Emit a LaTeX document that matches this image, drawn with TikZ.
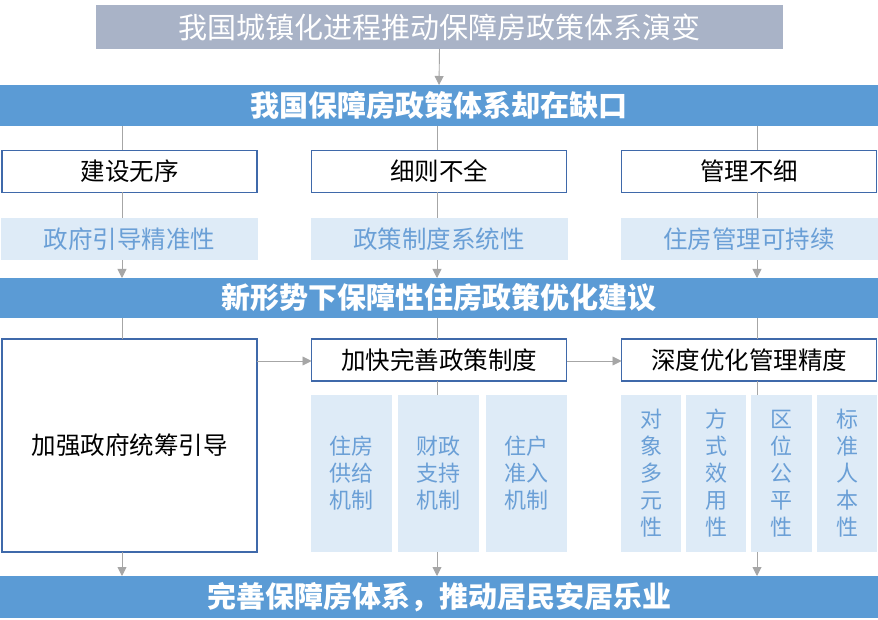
\documentclass[tikz,border=0pt]{standalone}
\usepackage{fontspec}
\setmainfont{Noto Sans CJK SC}
\usetikzlibrary{arrows.meta}
\definecolor{graybox}{HTML}{A9B3C7}
\definecolor{band}{HTML}{5B9BD5}
\definecolor{lightfill}{HTML}{DEEBF7}
\definecolor{lighttext}{HTML}{6A9FD6}
\definecolor{border}{HTML}{3F69AA}
\definecolor{conn}{HTML}{A6A6A6}
\tikzset{
  base/.style={inner sep=0pt,outer sep=0pt,align=center},
  topbox/.style={base,fill=graybox,text=white,font=\fontsize{29}{32}\selectfont,minimum width=687pt,minimum height=44pt},
  bandbox/.style={base,fill=band,text=white,font=\fontsize{29}{32}\selectfont\bfseries,minimum width=878pt},
  wbox/.style={base,draw=border,line width=1.6pt,fill=white,font=\fontsize{24.5}{28}\selectfont,minimum width=255pt,minimum height=42pt},
  lbox/.style={base,fill=lightfill,text=lighttext,font=\fontsize{24.5}{28}\selectfont,minimum width=257pt,minimum height=42pt},
  col/.style={base,fill=lightfill,text=lighttext,font=\fontsize{22}{27}\selectfont,minimum height=157pt},
  ln/.style={draw=conn,line width=0.9pt},
  arr/.style={ln,-{Triangle[width=9pt,length=9pt]}}
}
\begin{document}
\begin{tikzpicture}[x=1pt,y=-1pt]
\useasboundingbox (0,0) rectangle (878,620);
\fill[white] (0,0) rectangle (878,620);
\coordinate (xa) at (122,0);
\coordinate (xb) at (437,0);
\coordinate (xc) at (757,0);
\coordinate (yr) at (0,361);
% nodes
\node[topbox] (top) at (439.5,27) {我国城镇化进程推动保障房政策体系演变};
\node[bandbox,minimum height=41pt] (band1) at (439,105.5) {我国保障房政策体系却在缺口};
\node[wbox] (p1) at (129.5,171.5) {建设无序};
\node[wbox] (p2) at (439,171.5) {细则不全};
\node[wbox] (p3) at (749,171.5) {管理不细};
\node[lbox] (g1) at (129.5,239) {政府引导精准性};
\node[lbox] (g2) at (439,239) {政策制度系统性};
\node[lbox] (g3) at (749,239) {住房管理可持续};
\node[bandbox,minimum height=40pt] (band2) at (439,298) {新形势下保障性住房政策优化建议};
\node[wbox,minimum height=213pt] (s1) at (129.5,445.5) {加强政府统筹引导};
\node[wbox] (s2) at (439,360) {加快完善政策制度};
\node[wbox] (s3) at (749,360) {深度优化管理精度};
\node[col,minimum width=81pt] (c1) at (351.5,473.5) {住房\\供给\\机制};
\node[col,minimum width=81pt] (c2) at (438.5,473.5) {财政\\支持\\机制};
\node[col,minimum width=81pt] (c3) at (526.5,473.5) {住户\\准入\\机制};
\node[col,minimum width=60pt] (d1) at (651,473.5) {对\\象\\多\\元\\性};
\node[col,minimum width=60pt] (d2) at (716,473.5) {方\\式\\效\\用\\性};
\node[col,minimum width=61pt] (d3) at (781,473.5) {区\\位\\公\\平\\性};
\node[col,minimum width=60pt] (d4) at (847,473.5) {标\\准\\人\\本\\性};
\node[bandbox,minimum height=42pt] (band3) at (439,597) {完善保障房体系，推动居民安居乐业};
% connectors
\draw[arr] (top.south) -- (band1.north);
\draw[ln] (band1.south -| xa) -- (p1.north -| xa);
\draw[ln] (band1.south -| xb) -- (p2.north -| xb);
\draw[ln] (band1.south -| xc) -- (p3.north -| xc);
\draw[ln] (p1.south -| xa) -- (g1.north -| xa);
\draw[ln] (p2.south -| xb) -- (g2.north -| xb);
\draw[ln] (p3.south -| xc) -- (g3.north -| xc);
\draw[arr] (g1.south -| xa) -- (band2.north -| xa);
\draw[arr] (g2.south -| xb) -- (band2.north -| xb);
\draw[arr] (g3.south -| xc) -- (band2.north -| xc);
\draw[ln] (band2.south -| xa) -- (s1.north -| xa);
\draw[ln] (band2.south -| xb) -- (s2.north -| xb);
\draw[ln] (band2.south -| xc) -- (s3.north -| xc);
\draw[arr] (s1.east |- yr) -- (s2.west |- yr);
\draw[arr] (s2.east |- yr) -- (s3.west |- yr);
\draw[ln] (s2.south -| xb) -- (c2.north -| xb);
\draw[ln] (s3.south -| xc) -- (d3.north -| xc);
\draw[arr] (s1.south -| xa) -- (band3.north -| xa);
\draw[arr] (c2.south -| xb) -- (band3.north -| xb);
\draw[arr] (d3.south -| xc) -- (band3.north -| xc);
\end{tikzpicture}
\end{document}
